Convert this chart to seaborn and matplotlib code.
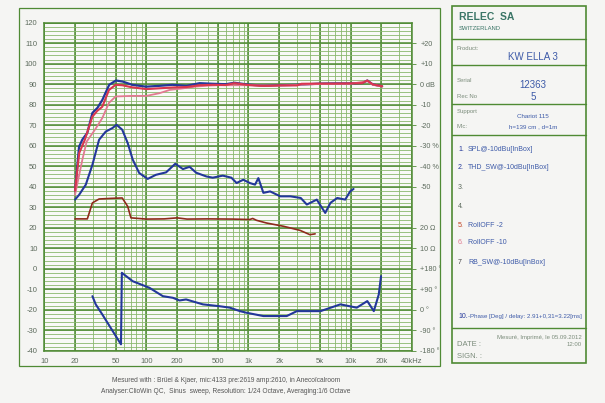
import numpy as np
import pandas as pd
import matplotlib
matplotlib.use("Agg")
import matplotlib.pyplot as plt
from matplotlib.patches import Rectangle
from matplotlib.lines import Line2D
import seaborn as sns

# ---------------- data ----------------
freq_spl = [20, 21.9, 23.6, 26.4, 29.6, 33.2, 37.1, 43.2, 50.3, 58.5, 72.6, 99, 134, 180, 247,
            332, 449, 600, 730, 1000, 1400, 2000, 3000, 5000, 7000, 10000, 13000, 14600, 16500, 20400]
spl = [38, 59.5, 63, 66.3, 76, 78.5, 82.4, 89.7, 91.8, 91.3, 89.7, 88.8, 89.2, 89.7, 89.2,
       90.5, 90.2, 90.0, 90.7, 89.8, 89.3, 89.5, 89.7, 90.3, 90.4, 90.4, 90.6, 91.8, 89.9, 89.0]

freq_roll2 = [20, 22, 25, 29.6, 33, 37, 43, 50, 58, 72, 100, 134, 180, 247, 332, 449, 600, 730,
              1000, 1300, 1600, 2000, 3000, 3300, 5000, 7000, 10000, 13000, 14600, 16500, 20400]
roll2 = [38, 56.5, 63, 74.2, 77, 79, 87.2, 89.7, 89.5, 88.5, 87.6, 88, 88.4, 88.6, 89.5, 89.7, 89.6, 90.5,
         89.6, 89.2, 89.2, 89.4, 89.4, 90.2, 90.3, 90.3, 90.4, 90.5, 91.8, 89.9, 89.0]

freq_roll10 = [20, 23.6, 26, 29.6, 32, 37, 43, 50, 72, 100, 134, 169, 230, 300, 400, 500, 1000,
               2000, 5000, 10000, 14600, 16500, 20400]
roll10 = [36, 53.2, 62, 66, 68.5, 73.5, 80.9, 84, 84.3, 84.3, 85.6, 87.2, 88, 88.8, 89.3, 89.5, 89.5,
          89.3, 90.1, 90.2, 91.5, 89.7, 88.8]

freq_thd = [20, 21.9, 25.5, 29.6, 34.4, 40, 46.5, 51, 58, 65.6, 73.5, 85, 103, 124, 156, 192, 228, 265,
            308, 387, 447, 560, 680, 765, 890, 1030, 1160, 1250, 1400, 1630, 2050, 2580, 3250, 3730,
            4670, 5650, 6350, 7400, 8870, 9900, 10700]
thd = [33.7, 36, 41, 50.7, 62.9, 66.9, 68.6, 70.2, 67.8, 61.3, 53.2, 46.7, 43.8, 45.8, 47, 51.2, 48.6, 49.7,
       46.8, 45, 44.4, 45.4, 44.4, 41.8, 43.4, 41.8, 41, 44.2, 37, 37.7, 35.3, 35.3, 34.5, 31.3,
       33.7, 27.2, 32.1, 34.5, 33.7, 37.7, 38.9]

freq_imp = [20, 26.4, 29.6, 34.4, 45, 58, 65.6, 70.6, 100, 150, 200, 250, 400, 700, 1030, 1100, 1200,
            1500, 2200, 3200, 4000, 4500]
imp = [24.3, 24.3, 32.1, 34, 34.3, 34.5, 30.4, 24.8, 24.2, 24.3, 24.8, 24.2, 24.3, 24.2, 24, 24.5, 23.6,
       22.3, 20.7, 18.7, 16.6, 17]

freq_phase = [29.6, 31.9, 37, 56.4, 57.5, 73.4, 107, 145, 182, 211, 245, 358, 520, 657, 825, 960, 1400,
              2370, 2980, 5080, 7950, 11500, 14600, 16900, 18900, 19900]
phase = [-13.4, -17.4, -22.3, -36.9, -2, -6.1, -9.3, -13.4, -14.2, -15.5, -15, -17.4, -18.3, -19, -20.7,
         -21.5, -23.1, -23.1, -20.7, -20.7, -17.4, -19, -15.8, -20.7, -12.6, -3.6]

x_ticks = [10, 20, 50, 100, 200, 500, 1000, 2000, 5000, 10000, 20000, 40000]
x_labels = ["10", "20", "50", "100", "200", "500", "1k", "2k", "5k", "10k", "20k", "40kHz"]
y_ticks = [120, 110, 100, 90, 80, 70, 60, 50, 40, 30, 20, 10, 0, -10, -20, -30, -40]
right_pos = [110, 100, 90, 80, 70, 60, 50, 40, 20, 10, 0, -10, -20, -30, -40]
right_labels = ["+20", "+10", "0 dB", "-10", "-20", "-30 %", "-40 %", "-50", "20 \u03a9", "10 \u03a9",
                "+180 \u00b0", "+90 \u00b0", "0 \u00b0", "-90 \u00b0", "-180 \u00b0"]

# ---------------- style ----------------
sns.set_theme(style="white")
plt.rcParams['font.family'] = ['Liberation Sans', 'DejaVu Sans']

W, H = 605, 403
fig = plt.figure(figsize=(W / 100, H / 100), dpi=100)
fig.patch.set_facecolor("#f5f5f3")

def fx(px):
    return px / W

def fy(py):
    return 1 - py / H

GREEN = "#4f8a34"
GREEN_L = "#8ab86e"
TXT = "#5d6b5d"
NAVY = "#23379a"

ax = fig.add_axes([fx(44.3), fy(350.7), fx(412) - fx(44.3), fy(22.7) - fy(350.7)])
ax.set_facecolor("#f9f9f7")
ax.set_xscale("log")
ax.set_xlim(10, 40000)
ax.set_ylim(-40, 120)

# grid
minor_x = []
for dec in [10, 100, 1000, 10000]:
    for m in range(1, 10):
        v = dec * m
        if v <= 40000:
            minor_x.append(v)
minor_x += [20000, 30000, 40000]
for v in sorted(set(minor_x)):
    ax.axvline(v, color=GREEN_L, lw=0.6, zorder=0)
for v in x_ticks:
    ax.axvline(v, color=GREEN, lw=1.1, zorder=0)
for v in range(-40, 121, 2):
    ax.axhline(v, color=GREEN_L, lw=0.6, zorder=0)
for v in range(-40, 121, 10):
    ax.axhline(v, color=GREEN, lw=1.1, zorder=0)

def draw(fr, val, color, lw=1.5, z=3):
    df = pd.DataFrame({"f": fr, "v": val})
    sns.lineplot(data=df, x="f", y="v", ax=ax, color=color, lw=lw, sort=False,
                 estimator=None, zorder=z)

draw(freq_spl, spl, NAVY, 1.6, 3)
draw(freq_roll10, roll10, "#e27a92", 1.3, 4)
draw(freq_roll2, roll2, "#d9364f", 1.5, 5)
draw(freq_thd, thd, NAVY, 1.5, 3)
draw(freq_imp, imp, "#8e2a1c", 1.2, 3)
draw(freq_phase, phase, NAVY, 1.5, 3)

ax.set_xlabel("")
ax.set_ylabel("")
ax.set_xticks(x_ticks)
ax.set_xticklabels(x_labels)
ax.xaxis.set_minor_locator(matplotlib.ticker.NullLocator())
ax.set_yticks(y_ticks)
ax.set_yticklabels([str(v) for v in y_ticks])
ax.tick_params(axis="both", length=0, labelsize=5.5, colors=TXT, pad=5)
for s in ax.spines.values():
    s.set_color(GREEN)
    s.set_linewidth(1.1)

ax2 = ax.twinx()
ax2.set_ylim(-40, 120)
ax2.set_yticks(right_pos)
ax2.set_yticklabels(right_labels)
ax2.tick_params(axis="y", length=3, width=0.6, labelsize=5.2, pad=3)
ax2.tick_params(axis="y", colors=GREEN)
for lab in ax2.get_yticklabels():
    lab.set_color(TXT)
for s in ax2.spines.values():
    s.set_visible(False)

# outer frame around chart
fig.patches.append(Rectangle((fx(19), fy(366)), fx(440) - fx(19), fy(7.5) - fy(366),
                             transform=fig.transFigure, fill=False, edgecolor=GREEN, lw=0.9))

# bottom texts
fig.text(fx(226), fy(381), "Mesured with : Br\u00fcel & Kjaer, mic:4133 pre:2619 amp:2610, in Aneco\u00efcalroom",
         ha="center", va="center", fontsize=4.8, color="#555555")
fig.text(fx(226), fy(391.5), "Analyser:ClioWin QC,  Sinus  sweep, Resolution: 1/24 Octave, Averaging:1/6 Octave",
         ha="center", va="center", fontsize=4.8, color="#555555")

# right panel
PL, PR, PT, PB = 452, 585.5, 6, 363
fig.patches.append(Rectangle((fx(PL), fy(PB)), fx(PR) - fx(PL), fy(PT) - fy(PB),
                             transform=fig.transFigure, fill=False, edgecolor=GREEN, lw=1.2))
for yy in [39, 65, 104, 135, 328]:
    fig.lines.append(Line2D([fx(PL), fx(PR)], [fy(yy), fy(yy)], transform=fig.transFigure,
                            color=GREEN, lw=1.0))

BLUE_T = "#3d5aa8"
fig.text(fx(459), fy(17), "RELEC  SA", fontsize=7.5, fontweight="bold", color="#3a7566", va="center")
fig.text(fx(459), fy(28.5), "SWITZERLAND", fontsize=4.2, color="#3a7566", va="center")
fig.text(fx(457), fy(48), "Product:", fontsize=4.3, color="#7b8c7b", va="center")
fig.text(fx(533), fy(57), "KW ELLA 3", fontsize=7, color=BLUE_T, va="center", ha="center")
fig.text(fx(457), fy(81), "Serial", fontsize=4.3, color="#7b8c7b", va="center")
fig.text(fx(533), fy(85), "12363", fontsize=7, color=BLUE_T, va="center", ha="center")
fig.text(fx(457), fy(96), "Rec No", fontsize=4.3, color="#7b8c7b", va="center")
fig.text(fx(533), fy(97.5), "5", fontsize=7, color=BLUE_T, va="center", ha="center")
fig.text(fx(457), fy(112), "Support", fontsize=4.3, color="#7b8c7b", va="center")
fig.text(fx(533), fy(117), "Chariot 115", fontsize=4.5, color=BLUE_T, va="center", ha="center")
fig.text(fx(457), fy(127), "Mic:", fontsize=4.3, color="#7b8c7b", va="center")
fig.text(fx(533), fy(127), "h=139 cm , d=1m", fontsize=4.5, color=BLUE_T, va="center", ha="center")

items = [(149, "1.", NAVY, "SPL@-10dBu[InBox]"),
         (168, "2.", NAVY, "THD_SW@-10dBu[InBox]"),
         (188, "3.", TXT, ""),
         (207, "4.", TXT, ""),
         (225, "5.", "#c04020", "RollOFF -2"),
         (243, "6.", "#e07a90", "RollOFF -10"),
         (262, "7", "#444444", "RB_SW@-10dBu[InBox]")]
for yy, num, col, lab in items:
    fig.text(fx(458), fy(yy), num, fontsize=5, color=col, va="center")
    if lab:
        fig.text(fx(468), fy(yy), lab, fontsize=5, color=BLUE_T, va="center")
fig.text(fx(458), fy(316.5), "10.", fontsize=5, color=NAVY, va="center")
fig.text(fx(468), fy(316.5), "-Phase [Deg] / delay: 2.91+0,31=3.22[ms]", fontsize=4.4, color=BLUE_T,
         va="center")
fig.text(fx(457), fy(344), "DATE :", fontsize=5.5, color="#7b8c7b", va="center")
fig.text(fx(457), fy(357), "SIGN. :", fontsize=5.5, color="#7b8c7b", va="center")
fig.text(fx(582), fy(337), "Mesur\u00e9, Imprim\u00e9, le 05.09.2012", fontsize=4.3, color="#7b8c7b",
         va="center", ha="right")
fig.text(fx(582), fy(344), "12:00", fontsize=4.3, color="#7b8c7b", va="center", ha="right")

fig.savefig("out.png", dpi=100, facecolor=fig.get_facecolor())
